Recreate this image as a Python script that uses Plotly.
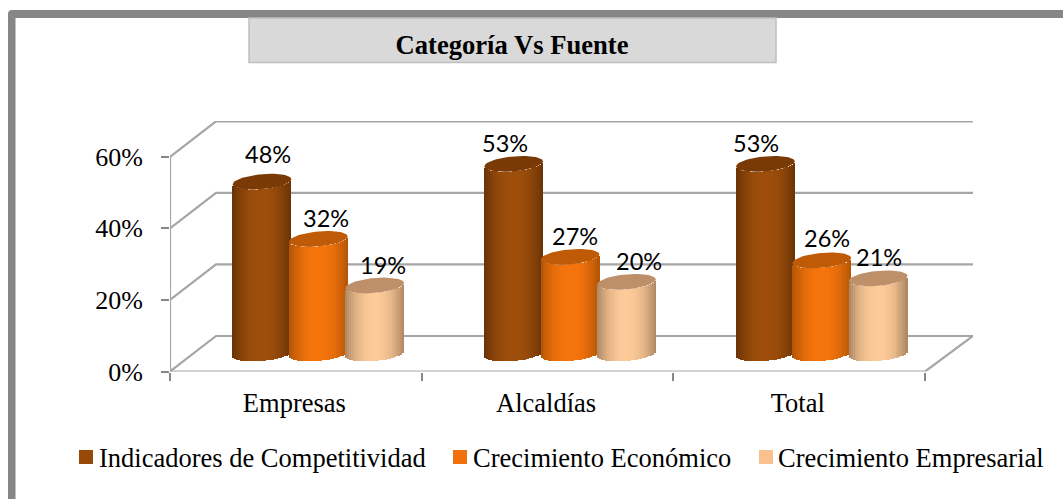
import numpy as np
import plotly.graph_objects as go

categories = ["Empresas", "Alcaldías", "Total"]
series_names = ["Indicadores de Competitividad", "Crecimiento Económico", "Crecimiento Empresarial"]
indicadores = [48, 53, 53]
economico = [32, 27, 26]
empresarial = [19, 20, 21]
y_ticks = [0, 20, 40, 60]

W, H = 1063, 499
L, R, T, B = 170, 973, 121, 371.5
PX_X = 251.7
XMAX = (R - L) / PX_X - 0.5
PX_Y = (B - T) / 70.0

DEPTH_X = 46 / PX_X
DEPTH_Y = 35.5 / PX_Y
LIFT_X = 22.5 / PX_X
LIFT_Y = 18 / PX_Y
STEP = 56.4 / PX_X
HALF = 29.3 / PX_X
CAP_B = 7.5 / PX_Y
CAP_S = 2.5 / PX_Y
N = 30
LABEL_NUDGE = 1.5 / PX_X

GRID = "#a6a6a6"
AXIS = "#868686"
FONT = "Liberation Serif"

styles = [
    dict(center=(158, 78, 10), edge=(104, 50, 6), cap="#7a3a06", swatch="#984807"),
    dict(center=(246, 116, 12), edge=(176, 84, 6), cap="#bf5b06", swatch="#f27009"),
    dict(center=(253, 202, 152), edge=(172, 134, 98), cap="#bd9069", swatch="#fac090"),
]
label_shift = [
    [(6, 28), (-9, 21), (-9, 21)],
    [(8, 21), (5, 21), (5, 22)],
    [(8, 21), (13, 21), (1, 21)],
]
legend_swatch_left = [79, 453, 759]
legend_text_left = [99, 473, 778]
all_values = [indicadores, economico, empresarial]


def shade(st, u):
    k = min(1.0, abs(u) ** 2.2)
    c = [st["center"][i] + (st["edge"][i] - st["center"][i]) * k for i in range(3)]
    return f"rgb({c[0]:.0f},{c[1]:.0f},{c[2]:.0f})"


fig = go.Figure()
annotations = []
shapes = []
us = (np.arange(N) + 0.5) / N * 2 - 1
strip = 2 * HALF / N

for s, (name, values, st) in enumerate(zip(series_names, all_values, styles)):
    xs, bases, heights, cols = [], [], [], []
    for i, v in enumerate(values):
        cx = i + LIFT_X + (s - 1) * STEP
        for u in us:
            front = CAP_B * np.sqrt(1 - u * u) - CAP_S * u
            xs.append(cx + u * HALF)
            bases.append(LIFT_Y - front)
            heights.append(v)
            cols.append(shade(st, u))
    fig.add_trace(go.Bar(x=xs, y=heights, base=bases, width=strip * 1.2, name=name,
                         marker=dict(color=cols, line=dict(width=0)),
                         showlegend=False, hoverinfo="skip"))

for s, (name, values, st) in enumerate(zip(series_names, all_values, styles)):
    for i, v in enumerate(values):
        cx = i + LIFT_X + (s - 1) * STEP
        t = np.linspace(0, 2 * np.pi, 61)
        ex = cx + HALF * np.cos(t)
        ey = LIFT_Y + v + CAP_B * np.sin(t) + CAP_S * np.cos(t)
        fig.add_trace(go.Scatter(x=ex, y=ey, mode="lines", fill="toself", fillcolor=st["cap"],
                                 line=dict(width=0, color=st["cap"]),
                                 showlegend=False, hoverinfo="skip"))
        dx, dy = label_shift[s][i]
        annotations.append(dict(x=cx, y=LIFT_Y + v, text=f"{v}%", showarrow=False,
                                xshift=dx, yshift=dy, xanchor="center", yanchor="middle",
                                font=dict(family="Lato", size=23.5, color="#000000")))
    # legend entry
    shapes.append(dict(type="rect", xref="paper", yref="paper",
                       x0=legend_swatch_left[s] / W, x1=(legend_swatch_left[s] + 14) / W,
                       y0=1 - 464 / H, y1=1 - 450 / H,
                       fillcolor=st["swatch"], line=dict(width=0)))
    annotations.append(dict(xref="paper", yref="paper", x=legend_text_left[s] / W, y=1 - 458 / H,
                            text=name, showarrow=False, xanchor="left", yanchor="middle",
                            xshift=-2, font=dict(family=FONT, size=26.5, color="#000000")))

for v in y_ticks:
    shapes.append(dict(type="path", xref="x", yref="y", layer="below",
                       path=f"M -0.5 {v} L {-0.5 + DEPTH_X} {v + DEPTH_Y} L {XMAX} {v + DEPTH_Y}",
                       line=dict(color=GRID, width=2.2)))
shapes.append(dict(type="path", xref="x", yref="y", layer="below",
                   path=f"M -0.5 0 L 2.5 0 L {XMAX} {DEPTH_Y}", line=dict(color=GRID, width=2.2)))
shapes.append(dict(type="line", xref="x", yref="y", layer="below", x0=-0.5, x1=-0.5, y0=0, y1=60,
                   line=dict(color=GRID, width=2.2)))
# outer frame
shapes.append(dict(type="path", xref="paper", yref="paper", layer="below",
                   path=f"M {8/W} {-0.02} L {8/W} {1-14/H} Q {8/W} {1-10/H} {12/W} {1-10/H} L 1 {1-10/H} "
                        f"L 1 {1-18/H} L {15.5/W} {1-18/H} L {15.5/W} {-0.02} Z",
                   fillcolor=AXIS, line=dict(width=0)))
# title plate
shapes.append(dict(type="rect", xref="paper", yref="paper", layer="below",
                   x0=249 / W, x1=776 / W, y0=1 - 62.5 / H, y1=1 - 18 / H,
                   fillcolor="#d9d9d9", line=dict(color="#bfbfbf", width=1.5)))

fig.update_layout(
    width=W, height=H, autosize=False,
    margin=dict(l=0, r=0, t=0, b=0, pad=0, autoexpand=False),
    paper_bgcolor="white", plot_bgcolor="rgba(0,0,0,0)",
    barmode="overlay", bargap=0, showlegend=False,
    title=dict(text="<b>Categoría Vs Fuente</b>", x=512 / W, xref="paper", xanchor="center",
               y=1 - 44.5 / H, yref="paper", yanchor="middle",
               font=dict(family=FONT, size=26.6, color="#000000")),
    font=dict(family=FONT, size=26, color="#000000"),
    xaxis=dict(domain=[L / W, R / W], range=[-0.5, XMAX], tickmode="array",
               tickvals=[i - LABEL_NUDGE for i in range(len(categories))], ticktext=categories,
               ticks="", showgrid=False,
               showline=False, zeroline=False, tickfont=dict(family=FONT, size=26.5),
               ticklabelstandoff=13, automargin=False,
               minor=dict(tickmode="array", tickvals=[-0.5, 0.5, 1.5, 2.5], ticks="outside",
                          ticklen=8, tickwidth=2, tickcolor=AXIS, showgrid=False)),
    yaxis=dict(domain=[1 - B / H, 1 - T / H], range=[0, 70], tickmode="array",
               tickvals=y_ticks, ticktext=[f"{v}%" for v in y_ticks], ticks="outside",
               ticklen=8, tickwidth=2, tickcolor=AXIS, showgrid=False, showline=False,
               zeroline=False, tickfont=dict(family=FONT, size=26), ticklabelstandoff=13,
               automargin=False),
    shapes=shapes, annotations=annotations,
)
fig.write_html("out.html", config=dict(displayModeBar=False),
               post_script="document.body.style.margin='0';document.documentElement.style.overflow='hidden';")
